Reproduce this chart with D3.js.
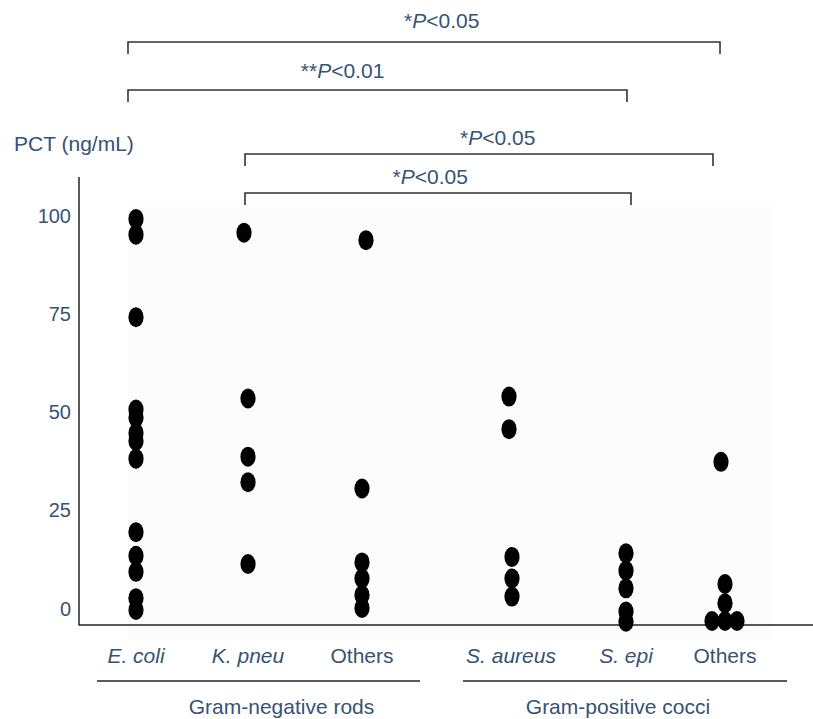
<!DOCTYPE html>
<html><head><meta charset="utf-8">
<script src="https://cdn.jsdelivr.net/npm/d3@7"></script>
<style>body{margin:0;background:#fff}svg{display:block}</style>
</head><body>
<svg id="c" width="813" height="719"></svg>
<script>
// ---------- DATA ----------
const categoryKeys = ["ecoli","kpneu","gnOthers","saureus","sepi","gpOthers"];
const categoryLabels = ["E. coli","K. pneu","Others","S. aureus","S. epi","Others"];
const categoryItalic = [true,true,false,true,true,false];
const groupLabels = ["Gram-negative rods","Gram-positive cocci"];
const groupMembers = [["ecoli","kpneu","gnOthers"],["saureus","sepi","gpOthers"]];
const ecoliValues    = [99,95,74,50.5,48.5,44.5,42.5,38,19.3,13.3,9.2,2.5,-0.5];
const kpneuValues    = [95.5,53.3,38.5,32,11.2];
const gnOthersValues = [93.6,30.4,11.6,7.5,3.3,0];
const saureusValues  = [53.8,45.5,13,7.5,2.9];
const sepiValues     = [13.9,9.5,5,-0.9,-3.5];
const gpOthersValues = [37.2,6.1,1.2,-3.3,-3.3,-3.3];
const yTicks = [0,25,50,75,100];
const yAxisTitle = "PCT (ng/mL)";
const comparisons = [
  {from:"ecoli", to:"gpOthers", stars:"*",  p:"<0.05"},
  {from:"ecoli", to:"sepi",     stars:"**", p:"<0.01"},
  {from:"kpneu", to:"gpOthers", stars:"*",  p:"<0.05"},
  {from:"kpneu", to:"sepi",     stars:"*",  p:"<0.05"}
];

// ---------- LAYOUT ----------
const valuesByKey = {ecoli:ecoliValues,kpneu:kpneuValues,gnOthers:gnOthersValues,
  saureus:saureusValues,sepi:sepiValues,gpOthers:gpOthersValues};
// horizontal nudges (px) so overlapping dots sit as in the figure
const nudges = {ecoli:[], kpneu:[-4], gnOthers:[4], saureus:[-2,-2,1,1,1], sepi:[], gpOthers:[-4,0,0,-13,0,12]};
const textColor = "#365374";
const font = "'Liberation Sans', Arial, sans-serif";

const svg = d3.select("#c");
const x = d3.scaleOrdinal().domain(categoryKeys).range([136,248,362,511,626,725]);
const y = d3.scaleLinear().domain([0,100]).range([608,215]);
const axisLeft = 79, axisBottom = 625, axisTop = 177;

// faint plot panel
svg.append("rect").attr("x",128).attr("y",206).attr("width",644).attr("height",434).attr("fill","#fcfcfc");

// axes
svg.append("line").attr("x1",axisLeft).attr("x2",axisLeft).attr("y1",axisTop).attr("y2",axisBottom+0.5)
  .attr("stroke","#222").attr("stroke-width",1.5);
svg.append("line").attr("x1",axisLeft).attr("x2",813).attr("y1",axisBottom).attr("y2",axisBottom)
  .attr("stroke","#222").attr("stroke-width",1.5);

const yAxis = d3.axisLeft(y).tickValues(yTicks).tickSize(0).tickPadding(0);
const yg = svg.append("g").attr("transform",`translate(71,0)`).call(yAxis);
yg.select(".domain").remove();
yg.selectAll("text").attr("fill",textColor).style("font-family",font).style("font-size","20px").attr("dy","0.36em");

svg.append("text").attr("x",14).attr("y",151).text(yAxisTitle)
  .attr("fill",textColor).style("font-family",font).style("font-size","21px");

// dots
const points = [];
categoryKeys.forEach(k => valuesByKey[k].forEach((v,i) => points.push({k, v, dx:(nudges[k][i]||0)})));
svg.append("g").selectAll("ellipse").data(points).join("ellipse")
  .attr("cx", d => x(d.k) + d.dx).attr("cy", d => y(d.v))
  .attr("rx",7.6).attr("ry",10).attr("fill","#000");

// category labels
svg.append("g").selectAll("text").data(categoryKeys).join("text")
  .attr("x", k => x(k)).attr("y",663).attr("text-anchor","middle")
  .text((k,i) => categoryLabels[i])
  .style("font-style",(k,i) => categoryItalic[i] ? "italic" : "normal")
  .attr("fill",textColor).style("font-family",font).style("font-size","21px");

// group underlines and labels
const groupExt = [[-39, 58],[-48, 62]];
const groupLabelShift = [23, -7];
groupMembers.forEach((g,gi) => {
  const x0 = x(g[0]) + groupExt[gi][0], x1 = x(g[g.length-1]) + groupExt[gi][1];
  svg.append("line").attr("x1",x0).attr("x2",x1).attr("y1",681).attr("y2",681)
    .attr("stroke","#222").attr("stroke-width",1.3);
  svg.append("text").attr("x",(x0+x1)/2 + groupLabelShift[gi]).attr("y",714).attr("text-anchor","middle")
    .text(groupLabels[gi]).attr("fill",textColor).style("font-family",font).style("font-size","21px");
});

// significance brackets
const bracketY = [42, 90, 154, 193];
const bracketDrop = 12;
const labelBase = [28, 78, 145, 184];
const labelFrac = [0.53, 0.43, 0.54, 0.48];
const endAdjust = [[-8,-5],[-8,1],[-3,-12],[-3,5]];
comparisons.forEach((c,i) => {
  const x0 = x(c.from) + endAdjust[i][0], x1 = x(c.to) + endAdjust[i][1];
  const by = bracketY[i];
  svg.append("path").attr("d",`M${x0},${by+bracketDrop}V${by}H${x1}V${by+bracketDrop}`)
    .attr("fill","none").attr("stroke","#333").attr("stroke-width",1.6);
  const t = svg.append("text").attr("x", x0 + (x1-x0)*labelFrac[i]).attr("y",labelBase[i])
    .attr("text-anchor","middle").attr("fill",textColor).style("font-family",font).style("font-size","21px");
  t.append("tspan").text(c.stars);
  t.append("tspan").style("font-style","italic").text("P");
  t.append("tspan").text(c.p);
});
</script>
</body></html>
